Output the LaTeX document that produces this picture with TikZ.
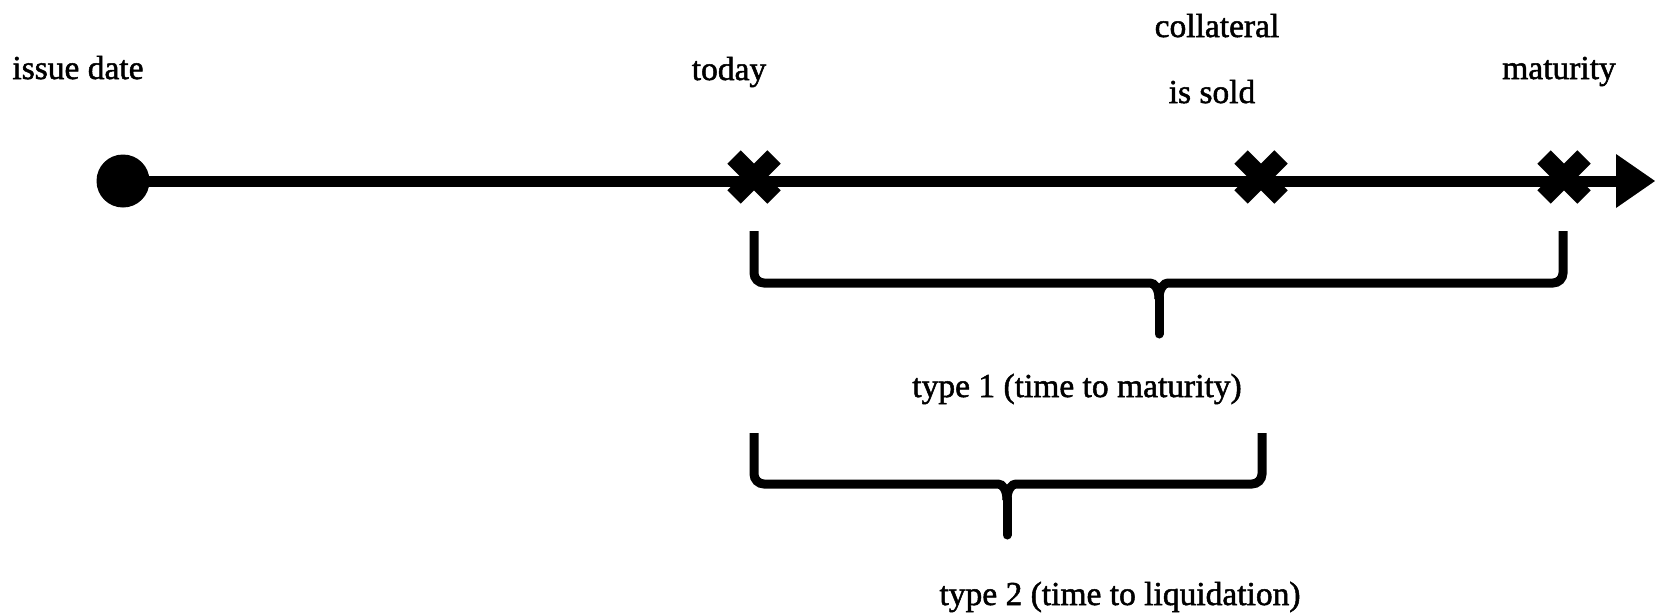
\documentclass[tikz,border=0pt]{standalone}
\usepackage{fontspec}
\setmainfont{Liberation Serif}
\newfontface\lblface{Liberation Serif}[FakeBold=1.5]
\usetikzlibrary{calc}
\begin{document}
\begin{tikzpicture}[x=1pt,y=-1pt,
  lbl/.style={anchor=base,inner sep=0pt,font=\lblface\fontsize{33.5}{40}\selectfont},
  axis/.style={line width=11pt},
  half/.style={line width=9pt,rounded corners=10pt},
  stem/.style={line width=9pt,line cap=round},
  xmark/.pic={\draw[line width=19pt] (-20,-20)--(20,20) (-20,20)--(20,-20);}]
\useasboundingbox (0,0) rectangle (1655,613);
% labels
\node[lbl] (tissue) at (78,79) {issue date};
\node[lbl] (ttoday) at (729,80) {today};
\node[lbl] (tcoll1) at (1217,37) {collateral};
\node[lbl] (tcoll2) at (1212,103) {is sold};
\node[lbl] (tmat) at (1559,79) {maturity};
\node[lbl] (ttype1) at (1077,397) {type 1 (time to maturity)};
\node[lbl] (ttype2) at (1120,605) {type 2 (time to liquidation)};
% timeline
\node[circle,fill,inner sep=0pt,minimum size=53pt] (issue) at (123,181) {};
\coordinate (tipback) at (1618,181);
\coordinate (end) at (1655,181);
\draw[axis] (issue.center) -- (tipback);
\fill ($(tipback)+(-2,-27)$) -- (end) -- ($(tipback)+(-2,27)$) -- cycle;
\coordinate (today) at (754,177);
\coordinate (sold) at (1261,177);
\coordinate (mat) at (1564,177);
\pic at (today) {xmark};
\pic at (sold) {xmark};
\pic at (mat) {xmark};
% brace 1
\coordinate (b1l) at (754,231);
\coordinate (b1r) at (1563,231);
\coordinate (b1t) at (1159,334);
\draw[half] (b1l) -- (b1l |- 0,283) -- (1140,283) .. controls (1154,283) and (1159,288) .. (1159,299);
\draw[half] (b1r) -- (b1r |- 0,283) -- (1178,283) .. controls (1164,283) and (1159,288) .. (1159,299);
\draw[stem] (1159,297) -- (b1t);
% brace 2
\coordinate (b2l) at (754,433);
\coordinate (b2r) at (1262,433);
\coordinate (b2t) at (1007,535);
\draw[half] (b2l) -- (b2l |- 0,484) -- (988,484) .. controls (1002,484) and (1007,489) .. (1007,500);
\draw[half] (b2r) -- (b2r |- 0,484) -- (1026,484) .. controls (1012,484) and (1007,489) .. (1007,500);
\draw[stem] (1007,498) -- (b2t);
\end{tikzpicture}
\end{document}
